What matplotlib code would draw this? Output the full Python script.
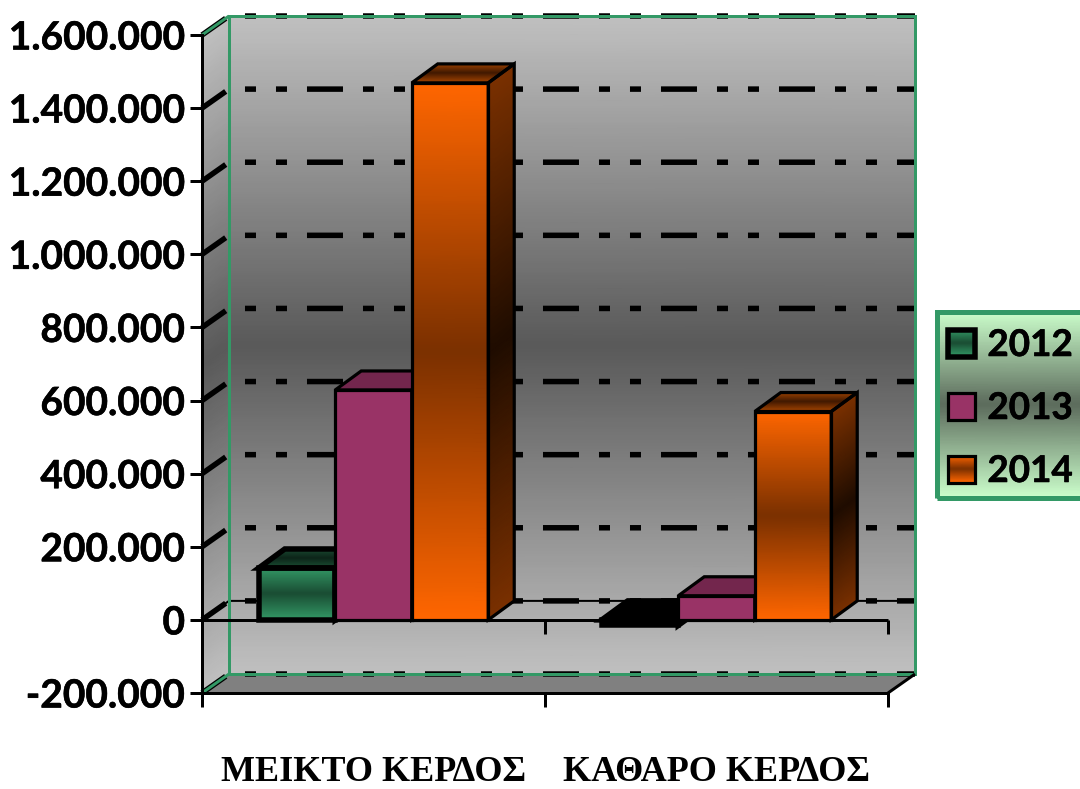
import matplotlib
matplotlib.use("Agg")
import matplotlib.pyplot as plt
import matplotlib.patheffects as pe
import numpy as np
from matplotlib.colors import LinearSegmentedColormap
from matplotlib.patches import Patch, Polygon, Rectangle
from matplotlib.transforms import IdentityTransform

plt.rcParams["lines.scale_dashes"] = False

categories = ["ΜΕΙΚΤΟ ΚΕΡΔΟΣ", "ΚΑΘΑΡΟ ΚΕΡΔΟΣ"]
years = ["2012", "2013", "2014"]
values_2012 = [142000, -15000]
values_2013 = [629000, 66000]
values_2014 = [1469000, 570000]
y_ticks = [-200000, 0, 200000, 400000, 600000, 800000, 1000000, 1200000, 1400000, 1600000]
y_labels = ["-200.000", "0", "200.000", "400.000", "600.000", "800.000",
            "1.000.000", "1.200.000", "1.400.000", "1.600.000"]

W, H = 1080, 789
DX, DY = 27, 19  # depth of the 3d box, px
BAR_W = 0.223
px = 0.72  # px to points at dpi 100
GREEN_EDGE = "#339966"

fig = plt.figure(figsize=(W / 100, H / 100), dpi=100, facecolor="white")
ax = fig.add_axes([202 / W, 1 - 693 / H, 686 / W, 658 / H])
ax.patch.set_visible(False)
ax.set_xlim(0, 2)
ax.set_ylim(-200000, 1600000)
ID = IdentityTransform()


def pt(x, v):
    return ax.transData.transform((x, v))


def gradient_face(tl, tr, bl, br, stops, z, rows=120):
    # tl..br are display corners, stops go from top to bottom of the face
    cmap = LinearSegmentedColormap.from_list("g", stops)
    t = np.linspace(0, 1, rows)
    s = np.array([0.0, 1.0])
    tt, ss = np.meshgrid(t, s, indexing="ij")
    left = np.outer(1 - t, tl) + np.outer(t, bl)
    right = np.outer(1 - t, tr) + np.outer(t, br)
    X = left[:, 0][:, None] * (1 - ss) + right[:, 0][:, None] * ss
    Y = left[:, 1][:, None] * (1 - ss) + right[:, 1][:, None] * ss
    ax.pcolormesh(X, Y, tt, shading="gouraud", cmap=cmap, vmin=0, vmax=1,
                  transform=ID, clip_on=False, zorder=z, antialiased=False)


def outline(points, lw, z, color="black"):
    ax.add_patch(Polygon(points, closed=True, fill=False, edgecolor=color, lw=lw * px,
                         transform=ID, clip_on=False, zorder=z, joinstyle="miter"))


def line(xs, ys, lw, z, color="black", ls="-"):
    ax.plot(xs, ys, color=color, lw=lw * px, ls=ls, transform=ID, clip_on=False, zorder=z,
            solid_capstyle="butt", dash_capstyle="butt")


wall = [(0, "#c0c0c0"), (0.5, "#595959"), (1, "#c0c0c0")]
fl = pt(0, 1600000)
fb = pt(0, -200000)
fr = pt(2, -200000)
frt = pt(2, 1600000)
d = np.array([DX, DY])

# back wall, side wall and floor
gradient_face(fl + d, frt + d, fb + d, fr + d, wall, 1)
gradient_face(fl, fl + d, fb, fb + d, wall, 1)
ax.add_patch(Polygon([fb, fb + d, fr + d, fr], closed=True, facecolor="#808080", edgecolor="none",
                     transform=ID, clip_on=False, zorder=1))

# gridlines, they start on the front edge and run along the back wall
dash = (7 * px, (36 * px, 20 * px, 11 * px, 20 * px, 11 * px, 20 * px))
for v in y_ticks:
    a = pt(0, v)
    b = pt(0, v) + d
    c = pt(2, v) + d
    line([a[0], b[0], c[0]], [a[1], b[1], c[1]], 5.5, 1.5, ls=dash)
zb = pt(0, 0) + d
zc = pt(2, 0) + d
line([zb[0] - DX, zb[0], zc[0]], [zb[1] - DY, zb[1], zc[1]], 2, 1.5)

# green wall frame
bl_, br_, tl_, tr_ = fb + d, fr + d, fl + d, frt + d
outline([bl_, br_, tr_, tl_], 3, 1.8, GREEN_EDGE)
line([fl[0], tl_[0]], [fl[1], tl_[1]], 3, 1.8, GREEN_EDGE)
line([fb[0], bl_[0]], [fb[1], bl_[1]], 3, 1.8, GREEN_EDGE)
line([fr[0], br_[0]], [fr[1], br_[1]], 3, 1.8)

# front zero line and its ticks
z0 = pt(0, 0)
z2 = pt(2, 0)
line([z0[0], z2[0]], [z0[1], z2[1]], 3, 2)
for x in [0, 1, 2]:
    p = pt(x, 0)
    line([p[0], p[0]], [p[1], p[1] - 14], 3, 2)


def bar3d(x0, v, front, top, side, lw, z):
    x1 = x0 + BAR_W
    lo, hi = min(v, 0), max(v, 0)
    a, b = pt(x0, hi), pt(x1, hi)
    c, e = pt(x0, lo), pt(x1, lo)
    dd = np.array([DX - 1, DY])
    if v < 0:
        # the small negative bar closes up to a black block
        black = [(0, "black"), (1, "black")]
        front = top = side = black
    gradient_face(a + dd, b + dd, a, b, top, z)
    gradient_face(b, b + dd, e, e + dd, side, z)
    gradient_face(a, b, c, e, front, z)
    outline([a, a + dd, b + dd, b], lw, z + 0.1)
    outline([b, b + dd, e + dd, e], lw, z + 0.1)
    outline([a, b, e, c], lw, z + 0.1)


def g3(edge, mid):
    return [(0, edge), (0.5, mid), (1, edge)]


styles = [
    (values_2012, g3("#339966", "#1a4d33"), g3("#1a4d33", "#0d261a"), g3("#1a4d33", "#0d261a"), 5.5),
    (values_2013, g3("#993366", "#993366"), g3("#73264d", "#73264d"), g3("#73264d", "#73264d"), 3.2),
    (values_2014, g3("#ff6600", "#7a3000"), g3("#a34400", "#431a00"), g3("#7a3000", "#1f0c00"), 3.2),
]
z = 3
for group in range(len(categories)):
    x_left = group + 0.5 - 1.5 * BAR_W
    for k, (vals, front, top, side, lw) in enumerate(styles):
        bar3d(x_left + k * BAR_W, vals[group], front, top, side, lw, z)
        z += 1

# axes
ax.set_yticks(y_ticks, y_labels)
ax.set_xticks([0.5, 1.5], categories)
ax.set_xticks([0, 1, 2], minor=True)
for s in ["top", "right"]:
    ax.spines[s].set_visible(False)
for s in ["left", "bottom"]:
    ax.spines[s].set_linewidth(3 * px)
ax.tick_params(axis="y", length=12 * px, width=3 * px, pad=3.5)
ax.tick_params(axis="x", which="major", length=0, pad=45.5)
ax.tick_params(axis="x", which="minor", length=14 * px, width=3 * px)
thicker = [pe.withStroke(linewidth=0.4, foreground="black")]
for t in ax.get_yticklabels():
    t.set_fontfamily("Lato")
    t.set_fontweight("bold")
    t.set_fontsize(28)
    t.set_path_effects(thicker)
for t in ax.get_xticklabels():
    t.set_fontfamily("Liberation Serif")
    t.set_fontweight("bold")
    t.set_fontsize(26)

# legend box
bx0, bx1, by0, by1 = 936.5, 1085, H - 497.5, H - 311.5
gradient_face(np.array([bx0, by1]), np.array([bx1, by1]), np.array([bx0, by0]), np.array([bx1, by0]),
              [(0, "#ccffcc"), (0.5, "#5c6b5c"), (1, "#ccffcc")], 20)
ax.add_patch(Rectangle((bx0, by0), bx1 - bx0, by1 - by0, fill=False, edgecolor=GREEN_EDGE, lw=5 * px,
                       transform=ID, clip_on=False, zorder=21))
handles = [Patch(facecolor="none", edgecolor="black", lw=lw * px) for (_, _, _, _, lw) in styles]
leg = ax.legend(handles, years, loc="upper left", bbox_to_anchor=(948 / W, 1 - 329 / H),
                bbox_transform=fig.transFigure, frameon=False, borderpad=0, borderaxespad=0,
                handlelength=0.74, handleheight=0.74, handletextpad=0.33, labelspacing=0.815,
                prop={"family": "Lato", "weight": "bold", "size": 26.5})
leg.set_zorder(25)
for t in leg.get_texts():
    t.set_path_effects(thicker)

fig.canvas.draw()
for h, (_, front, _, _, _) in zip(leg.legend_handles, styles):
    e = h.get_window_extent()
    gradient_face(np.array([e.x0, e.y1]), np.array([e.x1, e.y1]), np.array([e.x0, e.y0]), np.array([e.x1, e.y0]),
                  front, 24, rows=30)

fig.savefig("out.png", dpi=100, facecolor="white")
